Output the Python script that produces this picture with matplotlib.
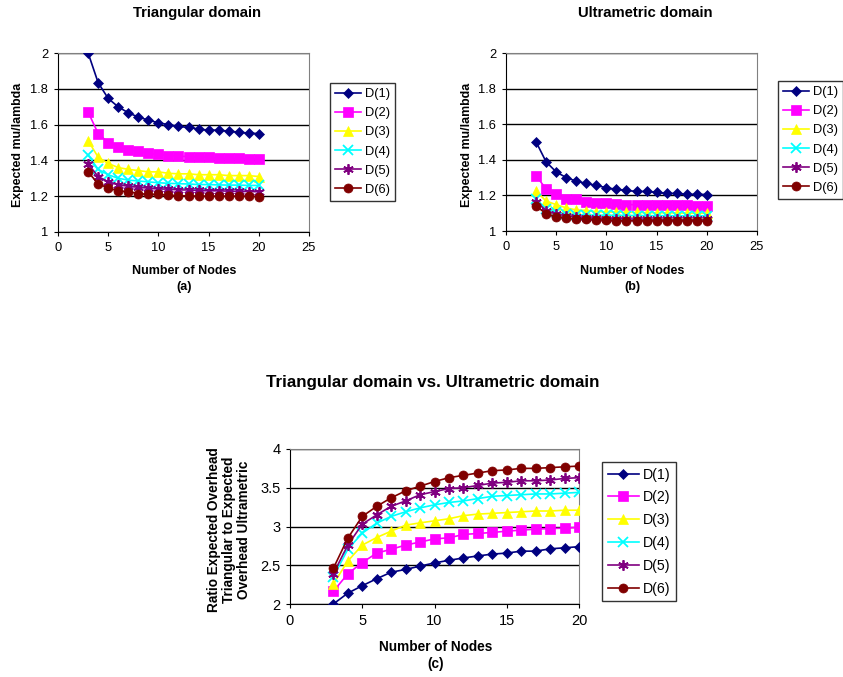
#!/usr/bin/env python3
"""
Expected mu/lambda for triangular vs. ultrametric domains, three panels.
"""
import matplotlib
matplotlib.use('Agg')
import matplotlib.pyplot as plt

plt.rcParams['font.family'] = ['Liberation Sans', 'DejaVu Sans']

nodes = list(range(3, 21))
labels = ['D(1)', 'D(2)', 'D(3)', 'D(4)', 'D(5)', 'D(6)']

# (a) triangular domain
tri = [
    [2.0, 1.834, 1.746, 1.699, 1.666, 1.642, 1.625, 1.61, 1.60, 1.59, 1.584, 1.575, 1.569, 1.569, 1.563, 1.558, 1.552, 1.55],
    [1.67, 1.55, 1.50, 1.476, 1.459, 1.45, 1.44, 1.433, 1.427, 1.425, 1.42, 1.418, 1.418, 1.412, 1.412, 1.412, 1.408, 1.408],
    [1.51, 1.418, 1.383, 1.36, 1.35, 1.343, 1.336, 1.336, 1.328, 1.325, 1.325, 1.32, 1.32, 1.32, 1.315, 1.315, 1.315, 1.31],
    [1.43, 1.35, 1.32, 1.30, 1.29, 1.285, 1.28, 1.275, 1.272, 1.27, 1.268, 1.265, 1.265, 1.263, 1.262, 1.262, 1.26, 1.26],
    [1.38, 1.31, 1.28, 1.265, 1.255, 1.25, 1.245, 1.24, 1.24, 1.235, 1.235, 1.232, 1.23, 1.23, 1.228, 1.227, 1.226, 1.225],
    [1.335, 1.27, 1.245, 1.23, 1.225, 1.215, 1.21, 1.21, 1.205, 1.203, 1.202, 1.2, 1.2, 1.2, 1.2, 1.2, 1.2, 1.198],
]

# (b) ultrametric domain
ultra = [
    [1.50, 1.388, 1.332, 1.30, 1.28, 1.267, 1.256, 1.243, 1.234, 1.228, 1.222, 1.222, 1.217, 1.211, 1.211, 1.206, 1.206, 1.205],
    [1.31, 1.236, 1.206, 1.18, 1.177, 1.163, 1.16, 1.16, 1.153, 1.148, 1.148, 1.148, 1.144, 1.144, 1.144, 1.144, 1.14, 1.14],
    [1.224, 1.168, 1.148, 1.13, 1.118, 1.115, 1.108, 1.107, 1.106, 1.105, 1.104, 1.103, 1.102, 1.102, 1.101, 1.1, 1.1, 1.1],
    [1.18, 1.123, 1.105, 1.095, 1.092, 1.09, 1.089, 1.088, 1.088, 1.087, 1.087, 1.086, 1.086, 1.086, 1.085, 1.085, 1.085, 1.085],
    [1.165, 1.115, 1.095, 1.085, 1.08, 1.075, 1.072, 1.07, 1.069, 1.068, 1.067, 1.067, 1.066, 1.066, 1.065, 1.065, 1.065, 1.065],
    [1.14, 1.097, 1.08, 1.073, 1.068, 1.068, 1.062, 1.062, 1.058, 1.058, 1.058, 1.058, 1.058, 1.058, 1.058, 1.058, 1.058, 1.055],
]

# (c) ratio triangular / ultrametric overhead
ratio = [
    [2.0, 2.14, 2.236, 2.326, 2.41, 2.446, 2.489, 2.53, 2.564, 2.594, 2.62, 2.644, 2.657, 2.682, 2.682, 2.712, 2.725, 2.74],
    [2.163, 2.39, 2.534, 2.657, 2.706, 2.76, 2.80, 2.84, 2.854, 2.897, 2.91, 2.923, 2.94, 2.953, 2.966, 2.974, 2.978, 2.99],
    [2.257, 2.554, 2.76, 2.858, 2.94, 3.017, 3.047, 3.073, 3.10, 3.14, 3.16, 3.17, 3.18, 3.19, 3.20, 3.20, 3.21, 3.21],
    [2.35, 2.706, 2.914, 3.043, 3.13, 3.19, 3.24, 3.28, 3.31, 3.33, 3.36, 3.39, 3.40, 3.41, 3.42, 3.42, 3.43, 3.44],
    [2.39, 2.76, 3.03, 3.15, 3.26, 3.33, 3.41, 3.45, 3.49, 3.50, 3.53, 3.56, 3.57, 3.59, 3.59, 3.60, 3.62, 3.63],
    [2.46, 2.85, 3.13, 3.26, 3.37, 3.46, 3.52, 3.58, 3.63, 3.66, 3.69, 3.72, 3.73, 3.75, 3.75, 3.76, 3.77, 3.78],
]

colors = ['#000080', '#FF00FF', '#FFFF00', '#00FFFF', '#800080', '#800000']
markers = ['D', 's', '^', 'x', (6, 2, 0), 'o']
sizes = [5.5, 6.5, 6.5, 6.5, 7.5, 6.5]

W, H = 843, 677
fig = plt.figure(figsize=(W / 100, H / 100), dpi=100)


def fx(px):
    return px / W


def fy(py):
    return 1 - py / H


def draw_panel(ax, series, xmax, ylim, yticks, legend_xy, fs, lfs, lspace, hlen):
    for vals, c, m, s, lab in zip(series, colors, markers, sizes, labels):
        ax.plot(nodes, vals, color=c, marker=m, markersize=s, lw=1.2,
                markeredgewidth=1.3 if m in ('x', (6, 2, 0)) else 0.5,
                markeredgecolor=c, label=lab, zorder=3)
    ax.set_xlim(0, xmax)
    ax.set_ylim(*ylim)
    ax.set_yticks(yticks)
    ax.set_xticks(range(0, xmax + 1, 5))
    ax.set_yticklabels(['{:g}'.format(t) for t in yticks])
    ax.yaxis.grid(True, color='black', lw=1)
    ax.tick_params(labelsize=fs, length=3, color='black', pad=4)
    for side in ('top', 'right'):
        ax.spines[side].set_color('#808080')
    for side in ('left', 'bottom'):
        ax.spines[side].set_color('black')
    leg = ax.legend(loc='upper left', bbox_to_anchor=(fx(legend_xy[0]), fy(legend_xy[1])),
                    bbox_transform=fig.transFigure, fontsize=lfs, frameon=True,
                    fancybox=False, edgecolor='black', handlelength=hlen,
                    labelspacing=lspace, borderpad=0.4, handletextpad=0.3,
                    borderaxespad=0)
    leg.get_frame().set_linewidth(1.0)


# (a)
ax1 = fig.add_axes([fx(58), fy(232), fx(251), 179 / H])
draw_panel(ax1, tri, 25, (1, 2), [1, 1.2, 1.4, 1.6, 1.8, 2], (330, 83), 9.3, 9.3, 0.55, 2.0)
fig.text(fx(197), fy(13), 'Triangular domain', ha='center', va='center',
         fontsize=10.7, fontweight='bold')
fig.text(fx(184), fy(271), 'Number of Nodes', ha='center', va='center',
         fontsize=9, fontweight='bold')
fig.text(fx(184), fy(287), '(a)', ha='center', va='center',
         fontsize=9, fontweight='bold')
fig.text(fx(18), fy(145), 'Expected mu/lambda', ha='center', va='center',
         rotation=90, fontsize=8.9, fontweight='bold')

# (b)
ax2 = fig.add_axes([fx(506), fy(231), fx(251), 178 / H])
draw_panel(ax2, ultra, 25, (1, 2), [1, 1.2, 1.4, 1.6, 1.8, 2], (778, 81), 9.3, 9.3, 0.55, 2.0)
fig.text(fx(645), fy(13), 'Ultrametric domain', ha='center', va='center',
         fontsize=10.7, fontweight='bold')
fig.text(fx(632), fy(271), 'Number of Nodes', ha='center', va='center',
         fontsize=9, fontweight='bold')
fig.text(fx(632), fy(287), '(b)', ha='center', va='center',
         fontsize=9, fontweight='bold')
fig.text(fx(467), fy(145), 'Expected mu/lambda', ha='center', va='center',
         rotation=90, fontsize=8.9, fontweight='bold')

# (c)
ax3 = fig.add_axes([fx(290), fy(604), fx(289), 155 / H])
draw_panel(ax3, ratio, 20, (2, 4), [2, 2.5, 3, 3.5, 4], (602, 462), 10.5, 10.2, 0.62, 2.2)
fig.text(fx(433), fy(382), 'Triangular domain vs. Ultrametric domain',
         ha='center', va='center', fontsize=12.2, fontweight='bold')
fig.text(fx(436), fy(647), 'Number of Nodes', ha='center', va='center',
         fontsize=9.8, fontweight='bold')
fig.text(fx(436), fy(664), '(c)', ha='center', va='center',
         fontsize=9.8, fontweight='bold')
fig.text(fx(229), fy(530),
         'Ratio Expected Overhead\nTriangular to Expected\nOverhead Ultrametric',
         ha='center', va='center', rotation=90, fontsize=9.8,
         fontweight='bold', linespacing=1.05)

fig.savefig('out.png', dpi=100)
